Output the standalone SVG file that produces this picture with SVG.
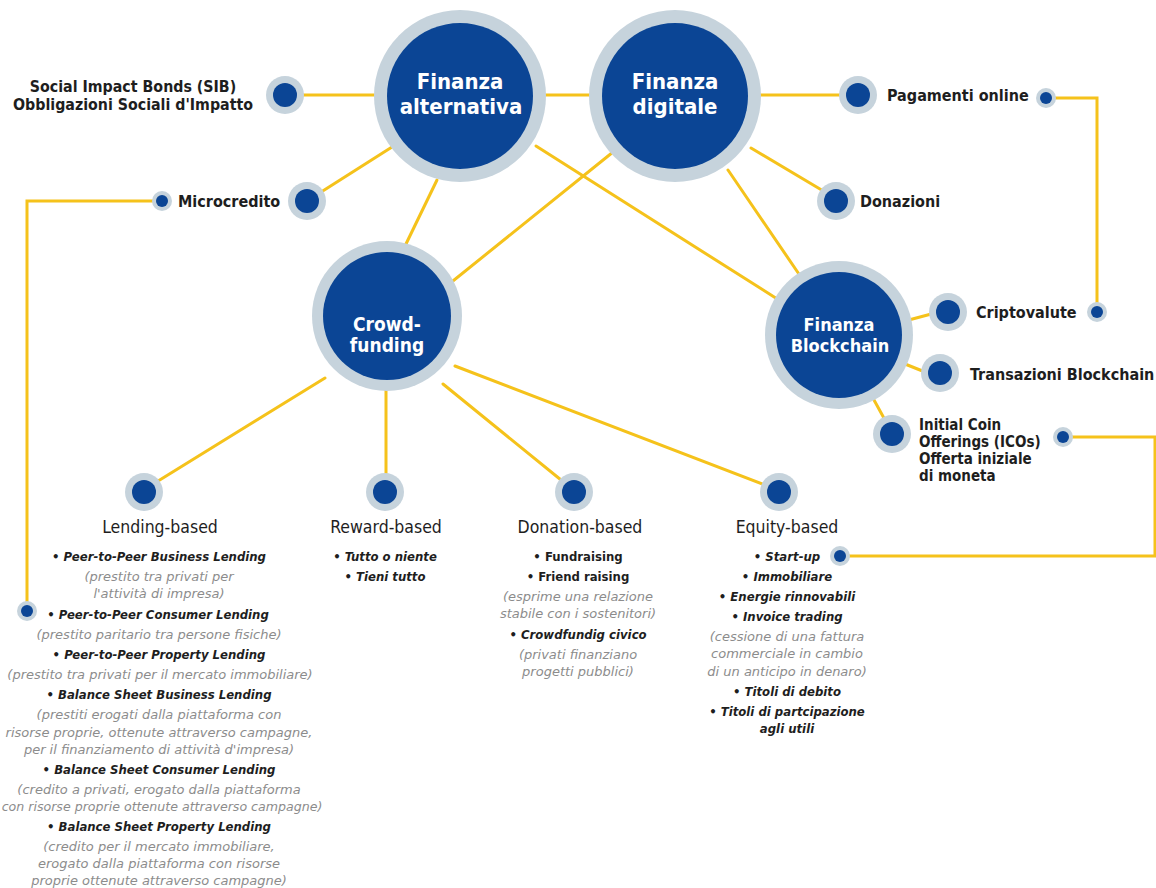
<svg xmlns="http://www.w3.org/2000/svg" width="1156" height="888" viewBox="0 0 1156 888">
  <style>
    .ring { fill: #c6d3dc; }
    .core { fill: #0b4595; }
    .wire { fill: none; stroke: #f5c21b; stroke-width: 3; stroke-linecap: round; stroke-linejoin: miter; }
    .big { font-family: "DejaVu Sans Condensed", "DejaVu Sans", sans-serif; font-weight: bold; fill: #ffffff; text-anchor: middle; }
    .lbl { font-family: "DejaVu Sans Condensed", "DejaVu Sans", sans-serif; font-weight: bold; font-size: 16px; fill: #1e1e1e; }
    .lbl.sm { font-size: 15px; }
    .lbl.mid { font-size: 15.8px; text-anchor: middle; }
    .head { font-family: "DejaVu Sans Condensed", "DejaVu Sans", sans-serif; font-size: 17.5px; fill: #1e1e1e; text-anchor: middle; }
    .item { font-family: "DejaVu Sans Condensed", "DejaVu Sans", sans-serif; font-weight: bold; font-style: italic; font-size: 13px; fill: #1e1e1e; text-anchor: middle; }
    .itemup { font-family: "DejaVu Sans Condensed", "DejaVu Sans", sans-serif; font-weight: bold; font-size: 13px; fill: #1e1e1e; text-anchor: middle; }
    .note { font-family: "DejaVu Sans", sans-serif; font-style: italic; font-size: 13px; fill: #8c8c8c; text-anchor: middle; }
    .note.tight { font-size: 12.6px; }
  </style>

  <!-- connectors -->
  <g id="connectors" class="wire">
    <line x1="300" y1="95" x2="380" y2="95"/>
    <line x1="540" y1="95" x2="595" y2="95"/>
    <line x1="755" y1="95" x2="845" y2="95"/>
    <line x1="318" y1="194" x2="392" y2="147"/>
    <line x1="437" y1="180" x2="405" y2="246"/>
    <line x1="618" y1="148" x2="438" y2="293"/>
    <line x1="536" y1="146" x2="782" y2="302"/>
    <line x1="728" y1="170" x2="803" y2="280"/>
    <line x1="751" y1="148" x2="825" y2="192"/>
    <line x1="905" y1="321" x2="935" y2="313"/>
    <line x1="905" y1="364" x2="925" y2="372"/>
    <line x1="874" y1="400" x2="885" y2="420"/>
    <line x1="325" y1="378" x2="150" y2="486"/>
    <line x1="386" y1="388" x2="386" y2="480"/>
    <line x1="443" y1="384" x2="566" y2="484"/>
    <line x1="455" y1="366" x2="770" y2="487"/>
    <polyline points="162,201 27,201 27,611"/>
    <polyline points="1046,98 1097,98 1097,312"/>
    <polyline points="1063,437 1155,437 1155,556 840,556"/>
  </g>

  <!-- main hubs -->
  <g id="finanza-alternativa">
    <circle class="ring" cx="460" cy="96" r="86"/>
    <circle class="core" cx="460" cy="96" r="73"/>
    <text class="big" font-size="22" x="460" y="89">Finanza</text>
    <text class="big" font-size="22" x="461" y="114">alternativa</text>
  </g>
  <g id="finanza-digitale">
    <circle class="ring" cx="675" cy="96" r="86"/>
    <circle class="core" cx="675" cy="96" r="73"/>
    <text class="big" font-size="22" x="675" y="89">Finanza</text>
    <text class="big" font-size="22" x="675" y="114">digitale</text>
  </g>
  <g id="crowdfunding">
    <circle class="ring" cx="387" cy="316" r="75"/>
    <circle class="core" cx="387" cy="316" r="64"/>
    <text class="big" font-size="19" x="387" y="331">Crowd-</text>
    <text class="big" font-size="19" x="387" y="352">funding</text>
  </g>
  <g id="finanza-blockchain">
    <circle class="ring" cx="839" cy="335" r="74"/>
    <circle class="core" cx="839" cy="335" r="63"/>
    <text class="big" font-size="18" x="839" y="331">Finanza</text>
    <text class="big" font-size="18" x="840" y="352">Blockchain</text>
  </g>

  <!-- satellite nodes -->
  <g id="sib">
    <circle class="ring" cx="285" cy="95" r="19"/>
    <circle class="core" cx="285" cy="95" r="12"/>
    <text class="lbl mid" x="133" y="92">Social Impact Bonds (SIB)</text>
    <text class="lbl mid" x="133" y="110">Obbligazioni Sociali d'Impatto</text>
  </g>
  <g id="microcredito">
    <circle class="ring" cx="307" cy="201" r="19"/>
    <circle class="core" cx="307" cy="201" r="12"/>
    <circle class="ring" cx="162" cy="201" r="10"/>
    <circle class="core" cx="162" cy="201" r="6"/>
    <text class="lbl" x="178" y="207">Microcredito</text>
  </g>
  <g id="pagamenti-online">
    <circle class="ring" cx="858" cy="95" r="19"/>
    <circle class="core" cx="858" cy="95" r="12"/>
    <circle class="ring" cx="1046" cy="98" r="10"/>
    <circle class="core" cx="1046" cy="98" r="6"/>
    <text class="lbl" x="887" y="101">Pagamenti online</text>
  </g>
  <g id="donazioni">
    <circle class="ring" cx="836" cy="201" r="19"/>
    <circle class="core" cx="836" cy="201" r="12"/>
    <text class="lbl" x="860" y="207">Donazioni</text>
  </g>
  <g id="criptovalute">
    <circle class="ring" cx="948" cy="312" r="19"/>
    <circle class="core" cx="948" cy="312" r="12"/>
    <circle class="ring" cx="1097" cy="312" r="10"/>
    <circle class="core" cx="1097" cy="312" r="6"/>
    <text class="lbl" x="976" y="318">Criptovalute</text>
  </g>
  <g id="transazioni-blockchain">
    <circle class="ring" cx="940" cy="373" r="19"/>
    <circle class="core" cx="940" cy="373" r="12"/>
    <text class="lbl" x="970" y="380">Transazioni Blockchain</text>
  </g>
  <g id="ico">
    <circle class="ring" cx="892" cy="434" r="19"/>
    <circle class="core" cx="892" cy="434" r="12"/>
    <circle class="ring" cx="1063" cy="437" r="10"/>
    <circle class="core" cx="1063" cy="437" r="6"/>
    <text class="lbl sm" x="919" y="430">Initial Coin</text>
    <text class="lbl sm" x="919" y="447">Offerings (ICOs)</text>
    <text class="lbl sm" x="919" y="464">Offerta iniziale</text>
    <text class="lbl sm" x="919" y="481">di moneta</text>
  </g>

  <!-- crowdfunding branches -->
  <g id="lending-based">
    <circle class="ring" cx="144" cy="492" r="19"/>
    <circle class="core" cx="144" cy="492" r="12"/>
    <circle class="ring" cx="27" cy="611" r="10"/>
    <circle class="core" cx="27" cy="611" r="6"/>
    <text class="head" x="160" y="533">Lending-based</text>
    <text class="item" x="159" y="561">• Peer-to-Peer Business Lending</text>
    <text class="note" x="159" y="581">(prestito tra privati per</text>
    <text class="note" x="159" y="598">l'attività di impresa)</text>
    <text class="item" x="158" y="619">• Peer-to-Peer Consumer Lending</text>
    <text class="note" x="159" y="639">(prestito paritario tra persone fisiche)</text>
    <text class="item" x="159" y="659">• Peer-to-Peer Property Lending</text>
    <text class="note" x="160" y="679">(prestito tra privati per il mercato immobiliare)</text>
    <text class="item" x="159" y="699">• Balance Sheet Business Lending</text>
    <text class="note" x="159" y="719">(prestiti erogati dalla piattaforma con</text>
    <text class="note" x="159" y="737">risorse proprie, ottenute attraverso campagne,</text>
    <text class="note" x="159" y="754">per il finanziamento di attività d'impresa)</text>
    <text class="item" x="159" y="774">• Balance Sheet Consumer Lending</text>
    <text class="note" x="159" y="794">(credito a privati, erogato dalla piattaforma</text>
    <text class="note tight" x="162" y="811">con risorse proprie ottenute attraverso campagne)</text>
    <text class="item" x="159" y="831">• Balance Sheet Property Lending</text>
    <text class="note" x="159" y="851">(credito per il mercato immobiliare,</text>
    <text class="note" x="159" y="868">erogato dalla piattaforma con risorse</text>
    <text class="note" x="159" y="885">proprie ottenute attraverso campagne)</text>
  </g>
  <g id="reward-based">
    <circle class="ring" cx="385" cy="492" r="19"/>
    <circle class="core" cx="385" cy="492" r="12"/>
    <text class="head" x="386" y="533">Reward-based</text>
    <text class="item" x="385" y="561">• Tutto o niente</text>
    <text class="item" x="385" y="581">• Tieni tutto</text>
  </g>
  <g id="donation-based">
    <circle class="ring" cx="574" cy="492" r="19"/>
    <circle class="core" cx="574" cy="492" r="12"/>
    <text class="head" x="580" y="533">Donation-based</text>
    <text class="itemup" x="578" y="561">• Fundraising</text>
    <text class="itemup" x="578" y="581">• Friend raising</text>
    <text class="note" x="578" y="601">(esprime una relazione</text>
    <text class="note" x="578" y="618">stabile con i sostenitori)</text>
    <text class="item" x="578" y="639">• Crowdfundig civico</text>
    <text class="note" x="578" y="659">(privati finanziano</text>
    <text class="note" x="578" y="676">progetti pubblici)</text>
  </g>
  <g id="equity-based">
    <circle class="ring" cx="779" cy="492" r="19"/>
    <circle class="core" cx="779" cy="492" r="12"/>
    <circle class="ring" cx="840" cy="556" r="10"/>
    <circle class="core" cx="840" cy="556" r="6"/>
    <text class="head" x="787" y="533">Equity-based</text>
    <text class="item" x="787" y="561">• Start-up</text>
    <text class="item" x="787" y="581">• Immobiliare</text>
    <text class="item" x="787" y="601">• Energie rinnovabili</text>
    <text class="item" x="787" y="621">• Invoice trading</text>
    <text class="note" x="787" y="641">(cessione di una fattura</text>
    <text class="note" x="787" y="658">commerciale in cambio</text>
    <text class="note" x="787" y="676">di un anticipo in denaro)</text>
    <text class="item" x="787" y="696">• Titoli di debito</text>
    <text class="item" x="787" y="716">• Titoli di partcipazione</text>
    <text class="item" x="787" y="733">agli utili</text>
  </g>
</svg>
